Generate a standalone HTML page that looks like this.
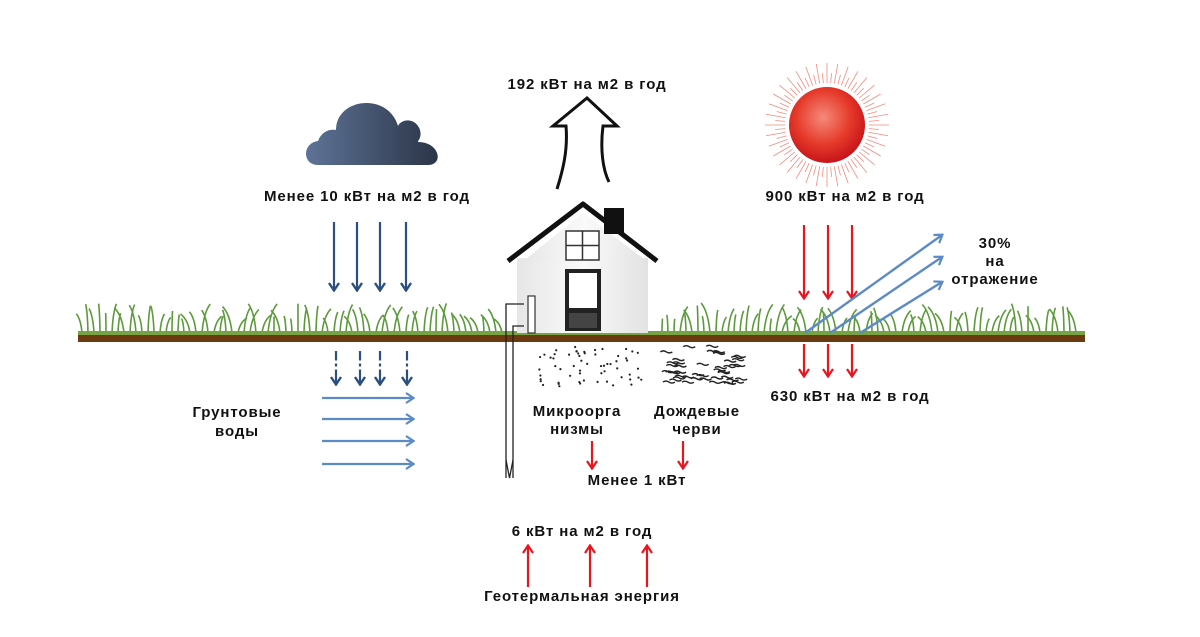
<!DOCTYPE html>
<html><head><meta charset="utf-8"><style>
html,body{margin:0;padding:0;background:#fff;}
svg{display:block}
text{font-family:"Liberation Sans",sans-serif;font-weight:bold;font-size:15px;letter-spacing:0.9px;fill:#111;}
</style></head><body>
<svg id="s" width="1200" height="637" viewBox="0 0 1200 637" xmlns="http://www.w3.org/2000/svg">
<defs>
<linearGradient id="cg" x1="0" x2="1"><stop offset="0" stop-color="#5e7397"/><stop offset="1" stop-color="#2b3547"/></linearGradient>
<radialGradient id="sg" cx="0.45" cy="0.4" r="0.6"><stop offset="0" stop-color="#f58a7a"/><stop offset="0.6" stop-color="#e53a2a"/><stop offset="1" stop-color="#c8141a"/></radialGradient>
<linearGradient id="hg" x1="0" x2="1"><stop offset="0" stop-color="#e6e6e6"/><stop offset="0.5" stop-color="#fafafa"/><stop offset="1" stop-color="#e2e2e2"/></linearGradient>
<marker id="ab" markerWidth="12" markerHeight="12" refX="10" refY="6" orient="auto" markerUnits="userSpaceOnUse" viewBox="0 0 12 12"><path d="M3,1 L10.5,6 L3,11" fill="none" stroke="#2b5080" stroke-width="2.4"/></marker>
<marker id="al" markerWidth="12" markerHeight="12" refX="10" refY="6" orient="auto" markerUnits="userSpaceOnUse" viewBox="0 0 12 12"><path d="M3,1 L10.5,6 L3,11" fill="none" stroke="#5b8ac6" stroke-width="2.2"/></marker>
<marker id="ar" markerWidth="12" markerHeight="12" refX="10" refY="6" orient="auto" markerUnits="userSpaceOnUse" viewBox="0 0 12 12"><path d="M3,1 L10.5,6 L3,11" fill="none" stroke="#e8141e" stroke-width="2.2"/></marker>
</defs>
<g id="grass" fill="none" stroke="#5c9a3c" stroke-width="1.6"></g>
<rect x="78" y="331" width="1007" height="4" fill="#78a344"/>
<rect x="78" y="335" width="1007" height="7" fill="#6b3a10"/>
<!-- cloud -->
<path d="M318,165 C302,165 302,143 318,141 C322,131 330,129 336,130 C336,112 352,103 366,103 C382,103 394,112 398,126 C402,118 416,118 420,130 C422,138 418,140 418,142 C440,142 444,165 428,165 Z" fill="url(#cg)"/>
<text x="367" y="201" text-anchor="middle">Менее 10 кВт на м2 в год</text>
<g stroke="#2b5080" stroke-width="2.2" marker-end="url(#ab)">
<line x1="334" y1="222" x2="334" y2="290"/><line x1="357" y1="222" x2="357" y2="290"/><line x1="380" y1="222" x2="380" y2="290"/><line x1="406" y1="222" x2="406" y2="290"/>
<line x1="336" y1="351" x2="336" y2="384"/><line x1="360" y1="351" x2="360" y2="384"/><line x1="380" y1="351" x2="380" y2="384"/><line x1="407" y1="351" x2="407" y2="384"/>
</g>
<g stroke="#fff" stroke-width="3"><line x1="330" y1="362" x2="412" y2="362"/><line x1="330" y1="368" x2="412" y2="368"/></g>
<g stroke="#5b8ac6" stroke-width="2.2" marker-end="url(#al)">
<line x1="322" y1="398" x2="413" y2="398"/><line x1="322" y1="419" x2="413" y2="419"/><line x1="322" y1="441" x2="413" y2="441"/><line x1="322" y1="464" x2="413" y2="464"/>
</g>
<text x="237" y="417" text-anchor="middle">Грунтовые</text>
<text x="237" y="436" text-anchor="middle">воды</text>
<text x="587" y="89" text-anchor="middle">192 кВт на м2 в год</text>
<path d="M557,189 C563,170 568,150 566,126 L553,126 L587,98 L617,126 L603,126 C600,150 603,170 609,182" fill="none" stroke="#111" stroke-width="3" stroke-linejoin="miter"/>
<!-- house -->
<rect x="517" y="258" width="131" height="75" fill="url(#hg)"/>
<path d="M583,213 L522,262 L648,262 Z" fill="url(#hg)"/>
<rect x="604" y="208" width="20" height="26" fill="#111"/>
<path d="M508,261 L583,204 L657,261" fill="none" stroke="#111" stroke-width="5" stroke-linejoin="round"/>
<rect x="566" y="231" width="33" height="29" fill="#fff" stroke="#333" stroke-width="1.5"/>
<line x1="582.5" y1="231" x2="582.5" y2="260" stroke="#333" stroke-width="1.5"/><line x1="566" y1="245.5" x2="599" y2="245.5" stroke="#333" stroke-width="1.5"/>
<rect x="565" y="269" width="36" height="62" fill="#222"/>
<rect x="569" y="273" width="28" height="35" fill="#fff"/>
<rect x="569" y="313" width="28" height="15" fill="#444"/>
<!-- well -->
<path d="M506,478 L506,304 L524,304 M513,478 L513,326 L524,326" fill="none" stroke="#222" stroke-width="1.3"/>
<path d="M506,460 L509.5,478 L513,460" fill="none" stroke="#222" stroke-width="1.3"/>
<rect x="528" y="296" width="7" height="37" fill="#fff" stroke="#333" stroke-width="1.2"/>
<g id="dots" fill="#222"></g>
<g id="worms" fill="none" stroke="#222" stroke-width="1.4"></g>
<text x="577" y="416" text-anchor="middle">Микроорга</text>
<text x="577" y="434" text-anchor="middle">низмы</text>
<text x="697" y="416" text-anchor="middle">Дождевые</text>
<text x="697" y="434" text-anchor="middle">черви</text>
<g stroke="#e8141e" stroke-width="2.2" marker-end="url(#ar)">
<line x1="592" y1="441" x2="592" y2="468"/><line x1="683" y1="441" x2="683" y2="468"/>
<line x1="528" y1="587" x2="528" y2="546"/><line x1="590" y1="587" x2="590" y2="546"/><line x1="647" y1="587" x2="647" y2="546"/>
<line x1="804" y1="225" x2="804" y2="298"/><line x1="828" y1="225" x2="828" y2="298"/><line x1="852" y1="225" x2="852" y2="298"/>
<line x1="804" y1="344" x2="804" y2="376"/><line x1="828" y1="344" x2="828" y2="376"/><line x1="852" y1="344" x2="852" y2="376"/>
</g>
<text x="637" y="485" text-anchor="middle">Менее 1 кВт</text>
<text x="582" y="536" text-anchor="middle">6 кВт на м2 в год</text>
<text x="582" y="601" text-anchor="middle">Геотермальная энергия</text>
<!-- sun -->
<g id="rays" stroke="#f28a7e" stroke-width="0.8"></g>
<circle cx="827" cy="125" r="38" fill="url(#sg)"/>
<text x="845" y="201" text-anchor="middle">900 кВт на м2 в год</text>
<g stroke="#5b8ac6" stroke-width="2.4" marker-end="url(#al)">
<line x1="805" y1="333" x2="942" y2="235"/><line x1="830" y1="333" x2="942" y2="257"/><line x1="860" y1="333" x2="942" y2="282"/>
</g>
<text x="995" y="248" text-anchor="middle">30%</text>
<text x="995" y="266" text-anchor="middle">на</text>
<text x="995" y="284" text-anchor="middle">отражение</text>
<text x="850" y="401" text-anchor="middle">630 кВт на м2 в год</text>
</svg>
<script>
var NS="http://www.w3.org/2000/svg";
function el(g,t,a){var e=document.createElementNS(NS,t);for(var k in a)e.setAttribute(k,a[k]);document.getElementById(g).appendChild(e);}
var seed=3;function r(){seed=(seed*9301+49297)%233280;return seed/233280;}
function grass(x0,x1){for(var x=x0;x<x1;x+=6){var h=14+r()*16,d=(r()-0.5)*20;el("grass","path",{d:"M"+x+",333 Q"+(x+d*0.2)+","+(333-h*0.7)+" "+(x+d)+","+(333-h)});}}
grass(82,505);grass(662,1082);
for(var i=0;i<60;i++){el("dots","circle",{cx:537+r()*105,cy:347+r()*40,r:1.1});}
for(var i=0;i<45;i++){var x=660+r()*78,y=346+r()*38;el("worms","path",{d:"M"+x+","+y+" q3,-2 6,0 t6,0"});}
for(var i=0;i<72;i++){var a=i*Math.PI*2/72,l=(i%2?52:62);el("rays","line",{x1:827+42*Math.cos(a),y1:125+42*Math.sin(a),x2:827+l*Math.cos(a),y2:125+l*Math.sin(a)});}
</script>
</body></html>
